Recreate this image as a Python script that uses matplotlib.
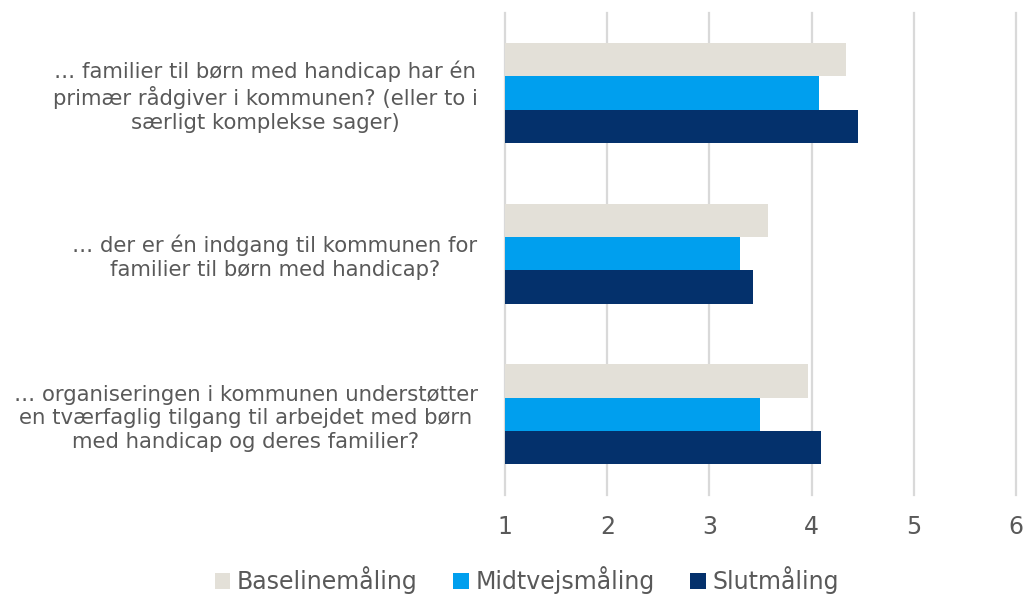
import numpy as np
import matplotlib.pyplot as plt

categories = [
    "… familier til børn med handicap har én\nprimær rådgiver i kommunen? (eller to i\nsærligt komplekse sager)",
    "… der er én indgang til kommunen for\nfamilier til børn med handicap?",
    "… organiseringen i kommunen understøtter\nen tværfaglig tilgang til arbejdet med børn\nmed handicap og deres familier?",
]
series_names = ["Baselinemåling", "Midtvejsmåling", "Slutmåling"]
baseline = [4.34, 3.57, 3.97]
midtvejs = [4.07, 3.30, 3.50]
slut = [4.46, 3.43, 4.09]
colors = ["#E3E0D8", "#009FEE", "#04316C"]
text_color = "#595959"

fig = plt.figure(figsize=(10.27, 5.97), dpi=100)
ax = fig.add_axes([0.492, 0.1715, 0.497, 0.8075])

y = np.arange(len(categories))[::-1]
h = 0.2075
for i, (vals, name, col) in enumerate(zip([baseline, midtvejs, slut], series_names, colors)):
    ax.barh(y + (1 - i) * h, np.array(vals) - 1, left=1, height=h, color=col,
            label=name, zorder=3)

ax.set_xlim(1, 6)
ax.set_ylim(-0.5, 2.5)
ax.set_xticks(range(1, 7))
ax.set_yticks(y)
ax.set_yticklabels(categories, multialignment="center", fontsize=15.3,
                   color=text_color, linespacing=1.22)
ax.tick_params(axis="y", length=0, pad=20)
ax.tick_params(axis="x", length=0, pad=15, labelsize=17, labelcolor=text_color)
ax.grid(axis="x", color="#D9D9D9", linewidth=1.6, zorder=0)
for line in ax.get_xgridlines():
    line.set_clip_on(False)
for s in ax.spines.values():
    s.set_visible(False)

fig.legend(loc="center", bbox_to_anchor=(527 / 1027, 1 - 580 / 597), ncol=3,
           frameon=False, fontsize=17, labelcolor=text_color,
           handlelength=0.65, handleheight=0.65, handletextpad=0.3, columnspacing=1.5)

fig.savefig("out.png", dpi=100)
